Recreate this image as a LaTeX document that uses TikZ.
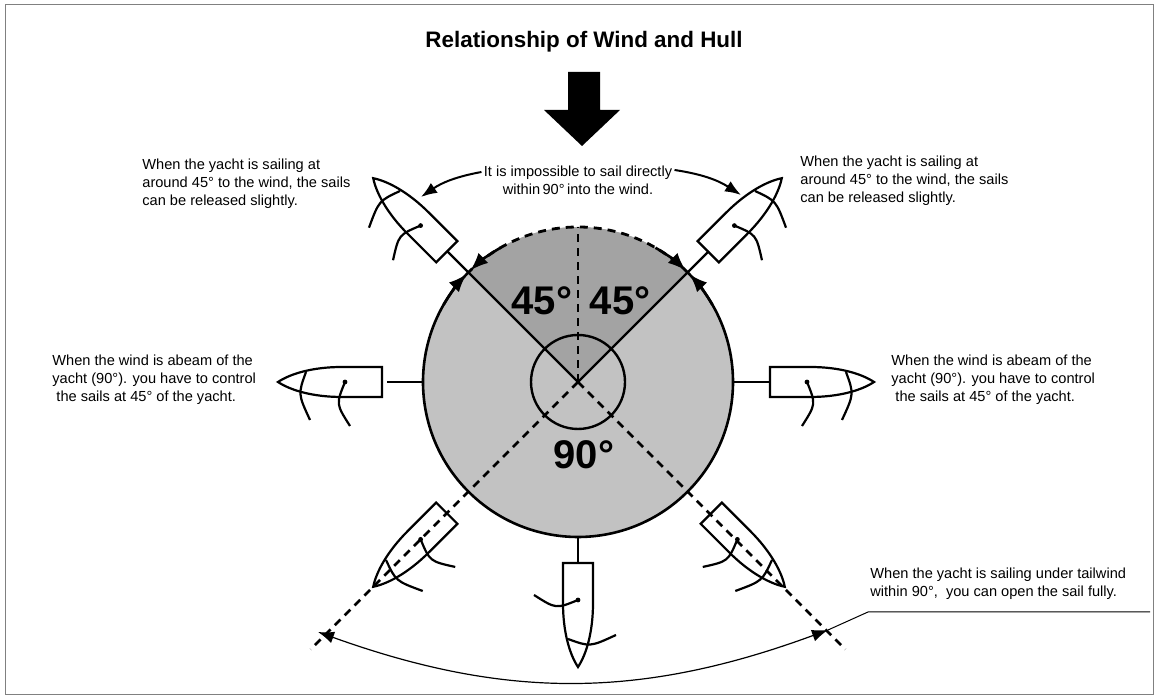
\documentclass[tikz,border=0pt]{standalone}
\usepackage{fontspec}
\setmainfont{Liberation Sans}
\usetikzlibrary{positioning, arrows.meta}
\definecolor{discgray}{gray}{0.76}
\definecolor{sectorgray}{gray}{0.64}
\newcommand{\dg}{\textdegree}
\tikzset{%
	>={Latex},
	note/.style = {font=\fontsize{7.3}{9}\selectfont, align=left, inner sep=0pt},
	big/.style = {font=\fontsize{20}{22}\selectfont\bfseries, inner sep=0pt},
	hull/.style = {line width=1.1pt},
	ray/.style = {line width=1.2pt},
	dray/.style = {line width=1.4pt, dash pattern=on 4pt off 3pt},
	boat/.pic = {
		\draw [hull] (-52,-15) -- (-52,15) -- (-12,15) .. controls (18,15) and (40,8) .. (52,0)
			.. controls (40,-8) and (18,-15) .. (-12,-15) -- cycle;
		\fill (-15,0) circle (2.4);
		\draw [hull] (-15,0) .. controls (-6,-22) .. (-20,-44);
		\draw [hull, yscale=#1] (24,-10) .. controls (32,12) .. (20,38);
	}
}
\begin{document}
\begin{tikzpicture}[x=0.5pt,y=0.5pt]
	\useasboundingbox (0,0) rectangle (1158,699);
	\draw [gray, line width=0.4pt] (5,5) rectangle (1153,695);
	% title and wind
	\node [font=\fontsize{11.2}{13}\selectfont\bfseries] (title) at (584,657) {Relationship of Wind and Hull};
	\fill (568,627) -- (600,627) -- (600,589) -- (620,589) -- (582,553) -- (544,589) -- (568,589) -- cycle;
	% disc
	\coordinate (C) at (578,317);
	\fill [discgray] (C) circle (155);
	\fill [sectorgray] (C) -- ++(45:155) arc (45:135:155) -- cycle;
	\draw [line width=1.3pt] (C) ++(135:155) arc (135:405:155);
	\draw [dray] (C) ++(45:155) arc (45:135:155);
	\draw [ray] (C) circle (47);
	\draw [line width=1pt, dash pattern=on 4pt off 3pt] (C) -- ++(90:155);
	\draw [ray] (C) -- ++(135:185) coordinate (ul);
	\draw [ray] (C) -- ++(45:185) coordinate (ur);
	\draw [dray] (C) -- ++(225:378) coordinate (ll);
	\draw [dray] (C) -- ++(315:378) coordinate (lr);
	\draw [ray] (C) ++(180:155) -- ++(180:36);
	\draw [ray] (C) ++(0:155) -- ++(0:37);
	\draw [ray] (C) ++(270:155) -- ++(270:26);
	% arrows on the rim
	\draw [line width=1.3pt, -{Latex[length=9pt,width=7pt]}] (C) ++(150:155) arc (150:136:155);
	\draw [line width=1.3pt, -{Latex[length=9pt,width=7pt]}] (C) ++(30:155) arc (30:44:155);
	\draw [line width=1.3pt, -{Latex[length=9pt,width=7pt]}] (C) ++(120:155) arc (120:134:155);
	\draw [line width=1.3pt, -{Latex[length=9pt,width=7pt]}] (C) ++(60:155) arc (60:46:155);
	% angle labels
	\node [big] (a1) at (542,398) {45\dg};
	\node [big] (a2) at (620,398) {45\dg};
	\node [big] (a3) at (584,244) {90\dg};
	% boats
	\pic [rotate=135, yscale=-1] at (410,484) {boat=-1};
	\pic [rotate=180, yscale=-1] at (330,317) {boat=-1};
	\pic [rotate=225, yscale=-1] at (410,149) {boat=-1};
	\pic [rotate=270] at (578,84) {boat=1};
	\pic [rotate=315] at (748,149) {boat=-1};
	\pic [rotate=0] at (822,317) {boat=-1};
	\pic [rotate=45] at (745,484) {boat=-1};
	% texts
	\node [note, align=center] (imp) at (578,519) {It is impossible to sail directly\\within\,90\dg\,into the wind.};
	\node [note, anchor=north west] (tl) at (142,540) {When the yacht is sailing at\\around 45\dg\ to the wind, the sails\\can be released slightly.};
	\node [note, anchor=north west] (tr) at (800,543) {When the yacht is sailing at\\around 45\dg\ to the wind, the sails\\can be released slightly.};
	\node [note, anchor=north west] (ml) at (52,344) {When the wind is abeam of the\\yacht (90\dg). you have to control\\\ the sails at 45\dg\ of the yacht.};
	\node [note, anchor=north west] (mr) at (891,344) {When the wind is abeam of the\\yacht (90\dg). you have to control\\\ the sails at 45\dg\ of the yacht.};
	\node [note, anchor=north west] (br) at (870,131) {When the yacht is sailing under tailwind\\within 90\dg,\ \ you can open the sail fully.};
	\coordinate (tipl) at (421,502);
	\coordinate (tipr) at (741,504);
	\draw [line width=1pt, -{Latex[length=8pt,width=6pt]}] (imp.west) ++(-2,8) to [bend right=12] (tipl);
	\draw [line width=1pt, -{Latex[length=8pt,width=6pt]}] (imp.east) ++(2,10) to [bend left=12] (tipr);
	% tailwind span
	\coordinate (sl) at (318,67);
	\coordinate (sr) at (828,69);
	\draw [line width=0.6pt, {Latex[length=8pt,width=6pt]}-{Latex[length=8pt,width=6pt]}] (sl) to [bend right=20] (sr);
	\draw [line width=0.5pt] (sr) -- (868,87) -- (1150,87);
\end{tikzpicture}
\end{document}
